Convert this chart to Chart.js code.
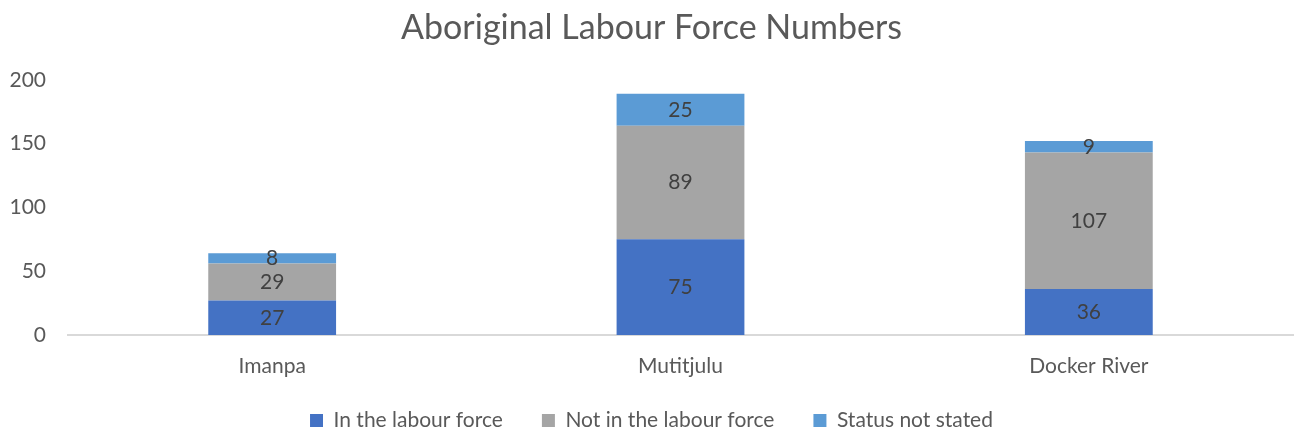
<!DOCTYPE html>
<html>
<head>
<meta charset="utf-8">
<script src="https://cdn.jsdelivr.net/npm/chart.js@4"></script>
<style>
html,body{margin:0;padding:0;background:#fff;}
#wrap{width:1295px;height:433px;position:relative;}
</style>
</head>
<body>
<div id="wrap"><canvas id="c"></canvas></div>
<script>
const categories = ["Imanpa", "Mutitjulu", "Docker River"];
const inLabourForce = [27, 75, 36];
const notInLabourForce = [29, 89, 107];
const statusNotStated = [8, 25, 9];
const seriesNames = ["In the labour force", "Not in the labour force", "Status not stated"];
const yTicks = [0, 50, 100, 150, 200];

const FONT = "Lato, 'Noto Sans', sans-serif";

const labelPlugin = {
  id: 'barLabels',
  afterLayout(chart) {
    // lift the legend row slightly closer to the category labels
    if (chart.legend) {
      chart.legend.top -= 8;
      chart.legend.bottom -= 8;
    }
  },
  afterDatasetsDraw(chart) {
    const ctx = chart.ctx;
    ctx.save();
    ctx.font = "21px " + FONT;
    ctx.fillStyle = "#404040";
    ctx.textAlign = "center";
    ctx.textBaseline = "middle";
    chart.data.datasets.forEach((ds, i) => {
      const meta = chart.getDatasetMeta(i);
      meta.data.forEach((bar, j) => {
        const v = ds.data[j];
        const y = (bar.y + bar.base) / 2;
        ctx.fillText(String(v), bar.x, y);
      });
    });
    ctx.restore();
  }
};

new Chart(document.getElementById('c'), {
  type: 'bar',
  data: {
    labels: categories,
    datasets: [
      { label: seriesNames[0], data: inLabourForce, backgroundColor: '#4472C4' },
      { label: seriesNames[1], data: notInLabourForce, backgroundColor: '#A5A5A5' },
      { label: seriesNames[2], data: statusNotStated, backgroundColor: '#5B9BD5' }
    ]
  },
  options: {
    responsive: true,
    maintainAspectRatio: false,
    animation: false,
    layout: { padding: { left: 10, right: 2, top: 0, bottom: -16 } },
    datasets: { bar: { categoryPercentage: 1.0, barPercentage: 0.313 } },
    scales: {
      x: {
        stacked: true,
        grid: { display: false, drawTicks: false },
        border: { display: true, color: '#D9D9D9', width: 2 },
        ticks: { color: '#595959', font: { family: FONT, size: 21 }, padding: 19 },
        afterFit(axis) { axis.height = 44; }
      },
      y: {
        stacked: true,
        min: 0, max: 200,
        afterBuildTicks(axis) { axis.ticks = yTicks.map(v => ({ value: v })); },
        grid: { display: false, drawTicks: false },
        border: { display: false },
        ticks: { color: '#595959', font: { family: FONT, size: 21 }, padding: 22 },
        afterFit(axis) { axis.width = 58; }
      }
    },
    plugins: {
      title: {
        display: true,
        text: 'Aboriginal Labour Force Numbers',
        color: '#595959',
        font: { family: FONT, size: 34, weight: 'normal' },
        padding: { top: 8, bottom: 31 }
      },
      legend: {
        position: 'bottom',
        labels: {
          color: '#595959',
          font: { family: FONT, size: 21 },
          boxWidth: 13, boxHeight: 13,
          padding: 39
        }
      },
      tooltip: { enabled: false }
    }
  },
  plugins: [labelPlugin]
});
</script>
</body>
</html>
